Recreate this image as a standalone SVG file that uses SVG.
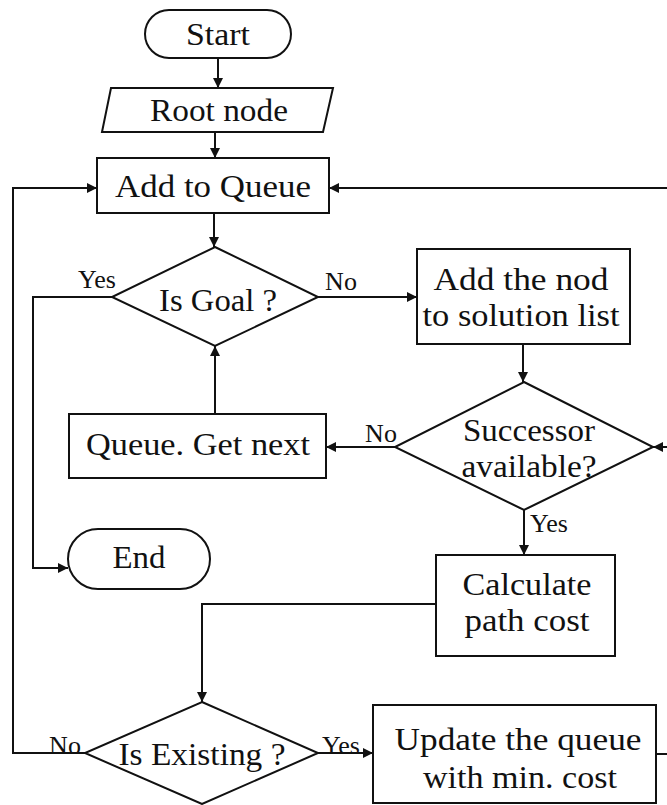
<svg xmlns="http://www.w3.org/2000/svg" width="667" height="805" viewBox="0 0 667 805">
  <style>
    .shape { fill: #ffffff; stroke: #111111; stroke-width: 2; }
    .wire { fill: none; stroke: #111111; stroke-width: 2; }
    .lbl { font-family: "Liberation Serif", "Times New Roman", serif; font-size: 31px; fill: #111111; text-anchor: middle; }
    .tag { font-family: "Liberation Serif", "Times New Roman", serif; font-size: 26px; fill: #111111; text-anchor: middle; }
  </style>
  <defs>
    <marker id="arrow" viewBox="0 0 10 10" refX="10" refY="5" markerWidth="11" markerHeight="10" orient="auto" markerUnits="userSpaceOnUse">
      <path d="M0,0 L10,5 L0,10 z" fill="#111111"/>
    </marker>
  </defs>
  <rect width="667" height="805" fill="#ffffff"/>

  <!-- connectors -->
  <g id="connectors">
    <line class="wire" x1="218" y1="58" x2="218" y2="88" marker-end="url(#arrow)"/>
    <line class="wire" x1="215" y1="132" x2="215" y2="158" marker-end="url(#arrow)"/>
    <line class="wire" x1="214" y1="213" x2="214" y2="247" marker-end="url(#arrow)"/>
    <!-- feedback loop from right side into queue -->
    <line class="wire" x1="667" y1="188" x2="329" y2="188" marker-end="url(#arrow)"/>
    <!-- Is Goal? -> No -->
    <line class="wire" x1="318" y1="297" x2="417" y2="297" marker-end="url(#arrow)"/>
    <!-- Is Goal? -> Yes -> End -->
    <polyline class="wire" points="112,297 33,297 33,568 68,568" marker-end="url(#arrow)"/>
    <line class="wire" x1="523" y1="344" x2="523" y2="382" marker-end="url(#arrow)"/>
    <!-- Successor? -> No -> Queue. Get next -->
    <line class="wire" x1="395" y1="447" x2="326" y2="447" marker-end="url(#arrow)"/>
    <line class="wire" x1="667" y1="447" x2="653" y2="447" marker-end="url(#arrow)"/>
    <line class="wire" x1="215" y1="414" x2="215" y2="346" marker-end="url(#arrow)"/>
    <!-- Successor? -> Yes -->
    <line class="wire" x1="524" y1="510" x2="524" y2="555" marker-end="url(#arrow)"/>
    <polyline class="wire" points="436,604 202,604 202,702" marker-end="url(#arrow)"/>
    <!-- Is Existing? -> No -> back to queue -->
    <polyline class="wire" points="85,753 13,753 13,188 97,188" marker-end="url(#arrow)"/>
    <!-- Is Existing? -> Yes -->
    <line class="wire" x1="318" y1="753" x2="373" y2="753" marker-end="url(#arrow)"/>
    <line class="wire" x1="656" y1="754" x2="667" y2="754"/>
    <text class="tag" x="97" y="288">Yes</text>
    <text class="tag" x="341" y="290">No</text>
    <text class="tag" x="381" y="442">No</text>
    <text class="tag" x="549" y="532">Yes</text>
    <text class="tag" x="65" y="754">No</text>
    <text class="tag" x="341" y="754">Yes</text>
  </g>

  <g id="start">
    <rect class="shape" x="145" y="10" width="146" height="48" rx="24"/>
    <text class="lbl" x="218" y="45" textLength="64" lengthAdjust="spacingAndGlyphs">Start</text>
  </g>

  <g id="root-node">
    <polygon class="shape" points="111,88 333,88 323,132 102,132"/>
    <text class="lbl" x="219" y="121" textLength="138" lengthAdjust="spacingAndGlyphs">Root node</text>
  </g>

  <g id="add-to-queue">
    <rect class="shape" x="97" y="158" width="232" height="55"/>
    <text class="lbl" x="213" y="197" textLength="196" lengthAdjust="spacingAndGlyphs">Add to Queue</text>
  </g>

  <g id="is-goal">
    <polygon class="shape" points="215,247 318,297 215,346 112,297"/>
    <text class="lbl" x="218" y="311" textLength="118" lengthAdjust="spacingAndGlyphs">Is Goal ?</text>
  </g>

  <g id="add-to-solution">
    <rect class="shape" x="417" y="249" width="213" height="95"/>
    <text class="lbl" x="521" y="290" textLength="175" lengthAdjust="spacingAndGlyphs">Add the nod</text>
    <text class="lbl" x="521" y="326" textLength="197" lengthAdjust="spacingAndGlyphs">to solution list</text>
  </g>

  <g id="successor">
    <polygon class="shape" points="524,382 653,447 524,510 395,447"/>
    <text class="lbl" x="529" y="441" textLength="132" lengthAdjust="spacingAndGlyphs">Successor</text>
    <text class="lbl" x="529" y="477" textLength="135" lengthAdjust="spacingAndGlyphs">available?</text>
  </g>

  <g id="queue-next">
    <rect class="shape" x="69" y="414" width="257" height="64"/>
    <text class="lbl" x="198" y="455" textLength="224" lengthAdjust="spacingAndGlyphs">Queue. Get next</text>
  </g>

  <g id="end">
    <rect class="shape" x="68" y="529" width="142" height="60" rx="30"/>
    <text class="lbl" x="139" y="568" textLength="53" lengthAdjust="spacingAndGlyphs">End</text>
  </g>

  <g id="path-cost">
    <rect class="shape" x="436" y="555" width="179" height="101"/>
    <text class="lbl" x="527" y="595" textLength="129" lengthAdjust="spacingAndGlyphs">Calculate</text>
    <text class="lbl" x="527" y="631" textLength="125" lengthAdjust="spacingAndGlyphs">path cost</text>
  </g>

  <g id="is-existing">
    <polygon class="shape" points="202,702 318,753 202,804 85,753"/>
    <text class="lbl" x="202" y="765" textLength="167" lengthAdjust="spacingAndGlyphs">Is Existing ?</text>
  </g>

  <g id="update-queue">
    <rect class="shape" x="373" y="705" width="283" height="98"/>
    <text class="lbl" x="518" y="750" textLength="247" lengthAdjust="spacingAndGlyphs">Update the queue</text>
    <text class="lbl" x="520" y="788" textLength="194" lengthAdjust="spacingAndGlyphs">with min. cost</text>
  </g>
</svg>
